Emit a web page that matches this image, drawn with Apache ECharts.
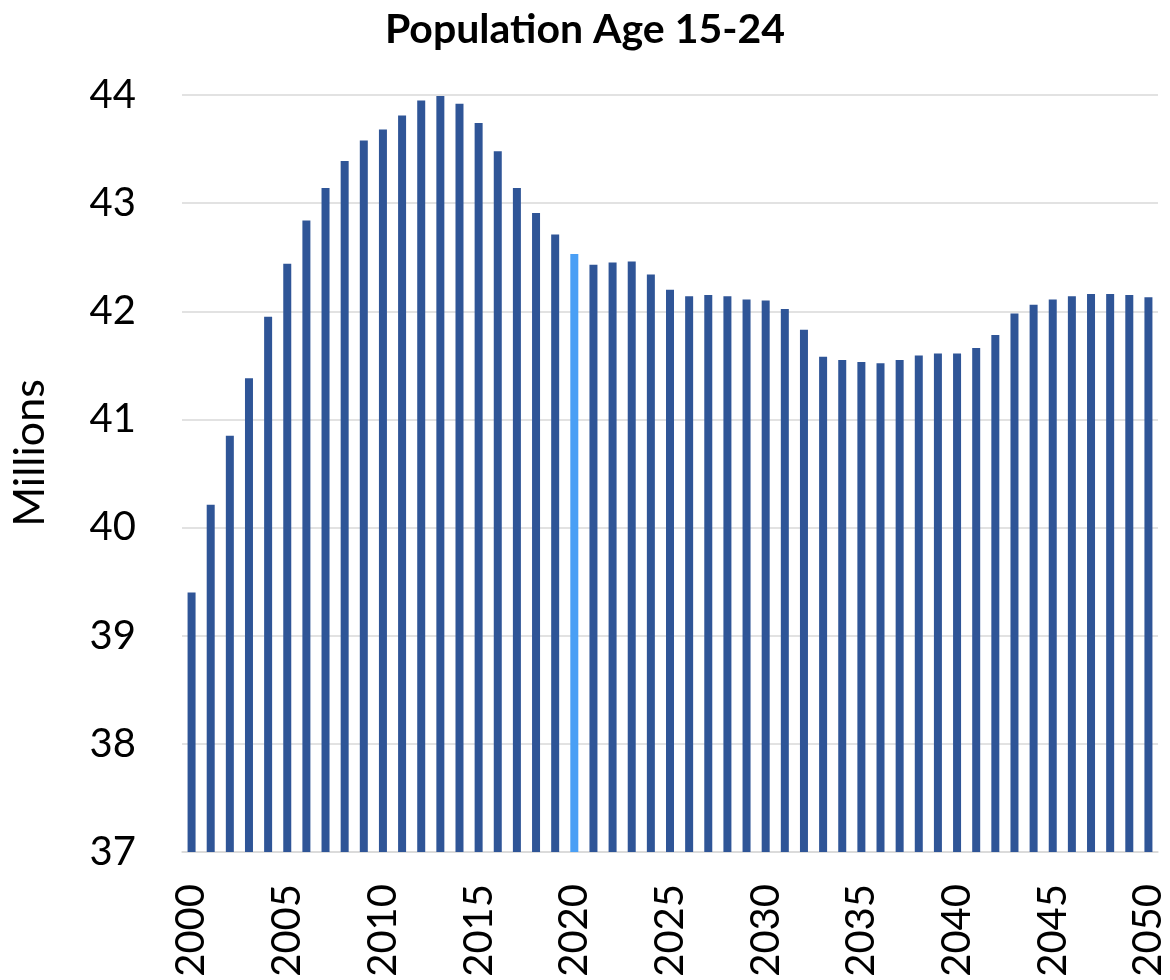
<!DOCTYPE html>
<html>
<head>
<meta charset="utf-8">
<script src="https://cdn.jsdelivr.net/npm/echarts@6/dist/echarts.min.js"></script>
<style>html,body{margin:0;padding:0;background:#fff}#chart{width:1170px;height:980px}</style>
</head>
<body>
<div id="chart"></div>
<script>
const years = [];
for (let y = 2000; y <= 2050; y++) years.push(String(y));
const population = [
  39.40, 40.21, 40.85, 41.38, 41.95, 42.44, 42.84, 43.14, 43.39, 43.58,
  43.68, 43.81, 43.95, 43.99, 43.92, 43.74, 43.48, 43.14, 42.91, 42.71,
  42.53, 42.43, 42.45, 42.46, 42.34, 42.20, 42.14, 42.15, 42.14, 42.11,
  42.10, 42.02, 41.83, 41.58, 41.55, 41.53, 41.52, 41.55, 41.59, 41.61,
  41.61, 41.66, 41.78, 41.98, 42.06, 42.11, 42.14, 42.16, 42.16, 42.15,
  42.13
];
const highlightYear = '2020';
const yTicks = { min: 37, max: 44, interval: 1 };
const yAxisTitle = 'Millions';

const chart = echarts.init(document.getElementById('chart'), null, { renderer: 'canvas' });
const FONT = 'Lato';
chart.setOption({
  animation: false,
  backgroundColor: '#ffffff',
  title: {
    text: 'Population Age 15-24',
    left: 'center',
    top: 4,
    textStyle: { fontFamily: FONT, fontWeight: 'bold', fontSize: 41, color: '#000' }
  },
  graphic: [{
    type: 'text',
    x: 30,
    y: 453,
    rotation: Math.PI / 2,
    style: {
      text: yAxisTitle,
      fontFamily: FONT,
      fontSize: 43,
      fill: '#000',
      align: 'center',
      verticalAlign: 'middle'
    }
  }],
  grid: { left: 182, right: 12, top: 95, bottom: 128, containLabel: false },
  xAxis: {
    type: 'category',
    data: years,
    boundaryGap: true,
    axisLine: { show: true, lineStyle: { color: '#d9d9d9', width: 1.5 } },
    axisTick: { show: false },
    axisLabel: {
      interval: 4,
      rotate: 90,
      margin: 32,
      fontFamily: FONT,
      fontSize: 40,
      color: '#000'
    }
  },
  yAxis: {
    type: 'value',
    min: yTicks.min,
    max: yTicks.max,
    interval: yTicks.interval,
    axisLine: { show: false },
    axisTick: { show: false },
    axisLabel: { margin: 46, fontFamily: FONT, fontSize: 40, color: '#000' },
    splitLine: { lineStyle: { color: '#d9d9d9', width: 1.5 } }
  },
  series: [{
    type: 'bar',
    barWidth: 8,
    data: population.map((v, i) => ({
      value: v,
      itemStyle: { color: years[i] === highlightYear ? '#4A9FF5' : '#2F5597' }
    }))
  }]
});
</script>
</body>
</html>
